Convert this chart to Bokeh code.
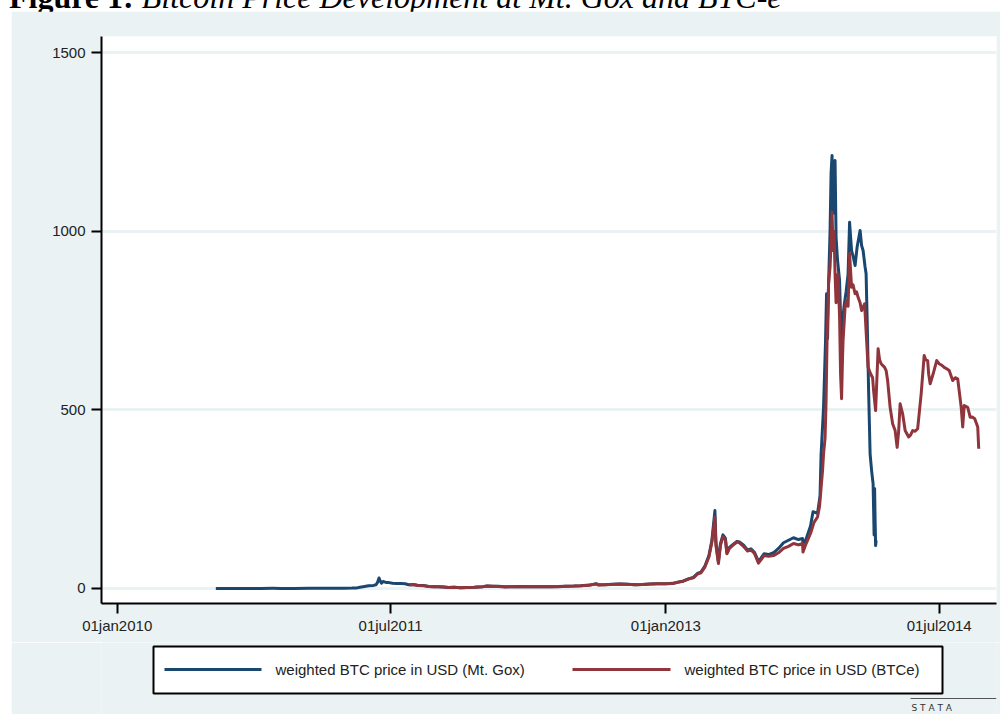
import pandas as pd
from bokeh.plotting import figure
from bokeh.models import Range1d, FixedTicker, Div, ColumnDataSource
from bokeh.layouts import column
from bokeh.embed import file_html
from bokeh.resources import INLINE
from bokeh.core.properties import value

# ---------------- data ----------------
title_bold = "Figure 1:"
title_italic = "Bitcoin Price Development at Mt. Gox and BTC-e"

gox_label = "weighted BTC price in USD (Mt. Gox)"
btce_label = "weighted BTC price in USD (BTCe)"
logo_text = "S   T   A   T   A"

x_tick_dates = ["2010-01-01", "2011-07-01", "2013-01-01", "2014-07-01"]
x_tick_labels = ["01jan2010", "01jul2011", "01jan2013", "01jul2014"]
y_ticks = [0, 500, 1000, 1500]

gox_points = [
    ("2010-07-17", 0.05), ("2010-08-15", 0.07), ("2010-09-15", 0.06), ("2010-10-15", 0.10),
    ("2010-11-07", 0.35), ("2010-11-25", 0.28), ("2010-12-20", 0.25), ("2011-01-20", 0.42),
    ("2011-02-10", 1.00), ("2011-03-05", 0.90), ("2011-03-30", 0.78), ("2011-04-15", 1.10),
    ("2011-04-25", 1.70), ("2011-05-01", 3.20), ("2011-05-10", 5.50), ("2011-05-18", 7.50),
    ("2011-05-28", 8.60), ("2011-06-02", 10.5), ("2011-06-05", 17.0), ("2011-06-08", 29.6),
    ("2011-06-10", 22.0), ("2011-06-13", 15.0), ("2011-06-16", 19.5), ("2011-06-22", 17.0),
    ("2011-06-28", 16.5), ("2011-07-05", 14.5), ("2011-07-14", 14.0), ("2011-07-22", 13.8),
    ("2011-07-30", 13.3), ("2011-08-06", 10.5), ("2011-08-15", 11.0), ("2011-08-25", 8.6),
    ("2011-09-05", 8.2), ("2011-09-15", 5.6), ("2011-09-25", 5.1), ("2011-10-05", 5.0),
    ("2011-10-15", 4.1), ("2011-10-25", 3.1), ("2011-11-05", 3.3), ("2011-11-18", 2.3),
    ("2011-12-01", 3.1), ("2011-12-15", 3.3), ("2012-01-01", 5.2), ("2012-01-10", 7.0),
    ("2012-01-20", 6.4), ("2012-02-01", 6.0), ("2012-02-15", 4.6), ("2012-03-01", 5.0),
    ("2012-03-15", 5.4), ("2012-04-01", 4.9), ("2012-04-15", 5.0), ("2012-05-01", 5.1),
    ("2012-05-15", 5.1), ("2012-06-01", 5.3), ("2012-06-15", 6.5), ("2012-07-01", 6.8),
    ("2012-07-15", 7.7), ("2012-08-01", 9.5), ("2012-08-15", 13.3), ("2012-08-19", 10.2),
    ("2012-09-01", 10.4), ("2012-09-15", 11.7), ("2012-10-01", 12.5), ("2012-10-15", 11.8),
    ("2012-11-01", 10.7), ("2012-11-15", 11.3), ("2012-12-01", 12.6), ("2012-12-15", 13.4),
    ("2013-01-01", 13.4), ("2013-01-15", 14.4), ("2013-01-25", 17.8), ("2013-02-05", 21.0),
    ("2013-02-15", 27.0), ("2013-02-25", 31.0), ("2013-03-05", 42), ("2013-03-12", 46),
    ("2013-03-20", 63), ("2013-03-28", 92), ("2013-04-03", 135), ("2013-04-09", 218),
    ("2013-04-11", 130), ("2013-04-14", 95), ("2013-04-16", 75), ("2013-04-20", 125),
    ("2013-04-25", 150), ("2013-04-30", 140), ("2013-05-03", 100), ("2013-05-08", 115),
    ("2013-05-14", 122), ("2013-05-23", 132), ("2013-05-28", 130), ("2013-06-05", 122),
    ("2013-06-13", 108), ("2013-06-20", 111), ("2013-06-27", 101), ("2013-07-05", 76),
    ("2013-07-10", 85), ("2013-07-16", 97), ("2013-07-25", 95), ("2013-08-04", 100),
    ("2013-08-14", 112), ("2013-08-24", 128), ("2013-09-03", 135), ("2013-09-13", 142),
    ("2013-09-23", 137), ("2013-10-01", 140), ("2013-10-02", 125), ("2013-10-08", 138),
    ("2013-10-17", 175), ("2013-10-22", 215), ("2013-10-31", 210), ("2013-11-05", 260),
    ("2013-11-07", 372), ("2013-11-12", 507), ("2013-11-16", 694), ("2013-11-18", 825),
    ("2013-11-20", 700), ("2013-11-22", 850), ("2013-11-25", 1000), ("2013-11-27", 1161),
    ("2013-11-29", 1212), ("2013-12-01", 1050), ("2013-12-03", 1150), ("2013-12-05", 1198),
    ("2013-12-07", 983), ("2013-12-10", 918), ("2013-12-14", 862), ("2013-12-16", 760),
    ("2013-12-18", 650), ("2013-12-20", 750), ("2013-12-23", 790), ("2013-12-27", 830),
    ("2013-12-31", 880), ("2014-01-03", 1025), ("2014-01-07", 946), ("2014-01-10", 930),
    ("2014-01-14", 904), ("2014-01-18", 955), ("2014-01-24", 1002), ("2014-01-27", 960),
    ("2014-01-30", 946), ("2014-02-03", 900), ("2014-02-05", 881), ("2014-02-07", 760),
    ("2014-02-08", 694), ("2014-02-10", 554), ("2014-02-13", 377), ("2014-02-16", 330),
    ("2014-02-19", 293), ("2014-02-21", 150), ("2014-02-22", 280), ("2014-02-23", 190),
    ("2014-02-24", 120), ("2014-02-25", 135),
]

btce_points = [
    ("2011-08-08", 10.0), ("2011-08-15", 11.0), ("2011-08-25", 8.5), ("2011-09-05", 8.0),
    ("2011-09-15", 5.5), ("2011-09-25", 5.0), ("2011-10-05", 4.9), ("2011-10-15", 4.0),
    ("2011-10-25", 3.0), ("2011-11-05", 3.2), ("2011-11-18", 2.2), ("2011-12-01", 3.0),
    ("2011-12-15", 3.2), ("2012-01-01", 5.0), ("2012-01-10", 6.8), ("2012-01-20", 6.3),
    ("2012-02-01", 5.8), ("2012-02-15", 4.5), ("2012-03-01", 4.9), ("2012-03-15", 5.3),
    ("2012-04-01", 4.9), ("2012-04-15", 5.0), ("2012-05-01", 5.0), ("2012-05-15", 5.0),
    ("2012-06-01", 5.2), ("2012-06-15", 6.4), ("2012-07-01", 6.7), ("2012-07-15", 7.6),
    ("2012-08-01", 9.3), ("2012-08-15", 13.0), ("2012-08-19", 10.0), ("2012-09-01", 10.3),
    ("2012-09-15", 11.5), ("2012-10-01", 12.4), ("2012-10-15", 11.7), ("2012-11-01", 10.6),
    ("2012-11-15", 11.2), ("2012-12-01", 12.5), ("2012-12-15", 13.3), ("2013-01-01", 13.3),
    ("2013-01-15", 14.2), ("2013-01-25", 17.5), ("2013-02-05", 20.5), ("2013-02-15", 26.5),
    ("2013-02-25", 30.0), ("2013-03-05", 40), ("2013-03-12", 44), ("2013-03-20", 60),
    ("2013-03-28", 88), ("2013-04-03", 130), ("2013-04-09", 200), ("2013-04-11", 120),
    ("2013-04-14", 90), ("2013-04-16", 70), ("2013-04-20", 120), ("2013-04-25", 145),
    ("2013-04-30", 135), ("2013-05-03", 97), ("2013-05-08", 112), ("2013-05-14", 120),
    ("2013-05-23", 130), ("2013-05-28", 128), ("2013-06-05", 118), ("2013-06-13", 105),
    ("2013-06-20", 108), ("2013-06-27", 98), ("2013-07-05", 71), ("2013-07-10", 80),
    ("2013-07-16", 92), ("2013-07-25", 90), ("2013-08-04", 92), ("2013-08-14", 100),
    ("2013-08-24", 112), ("2013-09-03", 118), ("2013-09-13", 126), ("2013-09-23", 122),
    ("2013-10-01", 126), ("2013-10-02", 102), ("2013-10-08", 125), ("2013-10-17", 154),
    ("2013-10-24", 185), ("2013-10-31", 200), ("2013-11-04", 230), ("2013-11-07", 280),
    ("2013-11-10", 330), ("2013-11-12", 377), ("2013-11-15", 420), ("2013-11-17", 520),
    ("2013-11-19", 694), ("2013-11-22", 853), ("2013-11-25", 900), ("2013-11-28", 1000),
    ("2013-11-29", 1053), ("2013-12-01", 946), ("2013-12-03", 1000), ("2013-12-05", 881),
    ("2013-12-07", 800), ("2013-12-09", 870), ("2013-12-11", 880), ("2013-12-14", 760),
    ("2013-12-16", 600), ("2013-12-18", 531), ("2013-12-20", 650), ("2013-12-21", 694),
    ("2013-12-25", 787), ("2013-12-28", 806), ("2013-12-31", 790), ("2014-01-03", 937),
    ("2014-01-07", 843), ("2014-01-10", 850), ("2014-01-14", 825), ("2014-01-17", 830),
    ("2014-01-20", 815), ("2014-01-24", 800), ("2014-01-27", 778), ("2014-02-02", 797),
    ("2014-02-06", 694), ("2014-02-09", 619), ("2014-02-14", 601), ("2014-02-18", 590),
    ("2014-02-20", 554), ("2014-02-24", 498), ("2014-03-01", 671), ("2014-03-04", 640),
    ("2014-03-07", 629), ("2014-03-14", 619), ("2014-03-17", 610), ("2014-03-20", 582),
    ("2014-03-25", 507), ("2014-03-30", 461), ("2014-04-04", 442), ("2014-04-08", 395),
    ("2014-04-11", 440), ("2014-04-14", 517), ("2014-04-19", 489), ("2014-04-24", 442),
    ("2014-05-01", 424), ("2014-05-05", 430), ("2014-05-09", 442), ("2014-05-14", 440),
    ("2014-05-19", 447), ("2014-05-26", 545), ("2014-06-01", 652), ("2014-06-04", 640),
    ("2014-06-08", 638), ("2014-06-10", 600), ("2014-06-13", 573), ("2014-06-19", 601),
    ("2014-06-26", 638), ("2014-07-01", 629), ("2014-07-06", 625), ("2014-07-11", 619),
    ("2014-07-16", 615), ("2014-07-21", 610), ("2014-07-28", 582), ("2014-08-02", 590),
    ("2014-08-07", 587), ("2014-08-14", 507), ("2014-08-17", 452), ("2014-08-20", 512),
    ("2014-08-27", 507), ("2014-09-01", 479), ("2014-09-05", 480), ("2014-09-10", 475),
    ("2014-09-16", 452), ("2014-09-18", 391),
]

# ---------------- styling constants ----------------
BG = "#eaf2f3"
NAVY = "#1a476f"
MAROON = "#90353b"
TXT = "#222222"
FONT = "Liberation Sans"
LW = 3


def to_ms(d):
    return pd.Timestamp(d).value // 10**6


gox_src = ColumnDataSource(dict(x=pd.to_datetime([d for d, _ in gox_points]),
                                y=[v for _, v in gox_points]))
btce_src = ColumnDataSource(dict(x=pd.to_datetime([d for d, _ in btce_points]),
                                 y=[v for _, v in btce_points]))

origin = pd.Timestamp("2010-01-01")
x_start = (origin - pd.Timedelta(days=31.4)).value / 1e6
x_end = (origin + pd.Timedelta(days=1756.5)).value / 1e6

# ---------------- main chart ----------------
p = figure(width=989, height=631, x_axis_type="datetime",
           x_range=Range1d(x_start, x_end), y_range=Range1d(-42, 1545),
           output_backend="svg", toolbar_location=None,
           min_border_left=90, min_border_right=4, min_border_top=25, min_border_bottom=39)
p.margin = (0, 0, 0, 11)
p.border_fill_color = BG
p.background_fill_color = "white"
p.outline_line_color = None

r_gox = p.line("x", "y", source=gox_src, line_color=NAVY, line_width=LW, line_join="round")
r_btce = p.line("x", "y", source=btce_src, line_color=MAROON, line_width=LW, line_join="round")

tick_ms = [to_ms(d) for d in x_tick_dates]
p.xaxis.ticker = FixedTicker(ticks=tick_ms, minor_ticks=[])
p.xaxis.major_label_overrides = {t: lab for t, lab in zip(tick_ms, x_tick_labels)}
p.yaxis.ticker = FixedTicker(ticks=y_ticks, minor_ticks=[])

for ax in (p.xaxis, p.yaxis):
    ax.axis_line_color = "black"
    ax.axis_line_width = 2
    ax.major_tick_line_color = "black"
    ax.major_tick_line_width = 2
    ax.major_tick_in = 0
    ax.major_tick_out = 10
    ax.minor_tick_out = 0
    ax.minor_tick_in = 0
    ax.major_label_text_font = FONT
    ax.major_label_text_font_size = "15px"
    ax.major_label_text_color = TXT
p.xaxis.major_label_standoff = 3
p.yaxis.major_label_standoff = 6

p.xgrid.visible = False
p.ygrid.grid_line_color = BG
p.ygrid.grid_line_width = 3

# ---------------- legend strip (page-pixel coordinates; frame aligned with main frame) ----
lg = figure(width=989, height=72, x_range=Range1d(101, 996), y_range=Range1d(714, 642),
            x_axis_type=None, y_axis_type=None, output_backend="svg", toolbar_location=None,
            min_border_left=90, min_border_right=4, min_border_top=0, min_border_bottom=0)
lg.margin = (0, 0, 0, 11)
lg.border_fill_color = BG
lg.background_fill_color = BG
lg.outline_line_color = None
lg.xgrid.visible = False
lg.ygrid.visible = False

lg.quad(left=[153], right=[942], top=[646], bottom=[693], fill_color="white",
        line_color="black", line_width=2)
lg.segment(x0=[164], x1=[261], y0=[669], y1=[669], line_color=NAVY, line_width=LW)
lg.segment(x0=[572], x1=[670], y0=[669], y1=[669], line_color=MAROON, line_width=LW)
lg.text(x=[275, 684], y=[669, 669], text=[gox_label, btce_label],
        text_font=value(FONT), text_font_size="15px", text_color=TXT,
        text_baseline="middle", text_align="left")

# Stata logo
lg.segment(x0=[910], x1=[996], y0=[698], y1=[698], line_color="#555555", line_width=1)
lg.text(x=[911], y=[702], text=[logo_text], text_font=value("DejaVu Sans"),
        text_font_size="9px", text_color="#333333", text_baseline="top")

title_div = Div(
    text=('<div style="position:relative; top:-19px; left:9px; font-family:\'Liberation Serif\';'
          ' font-size:32px; line-height:1; white-space:nowrap; color:#000;">'
          '<b>' + title_bold + '</b> <i>' + title_italic + '</i></div>'),
    width=989, height=11, margin=0, styles={"overflow": "visible"})

layout = column(title_div, p, lg, spacing=0)

open("out.html", "w").write(file_html(layout, INLINE))
